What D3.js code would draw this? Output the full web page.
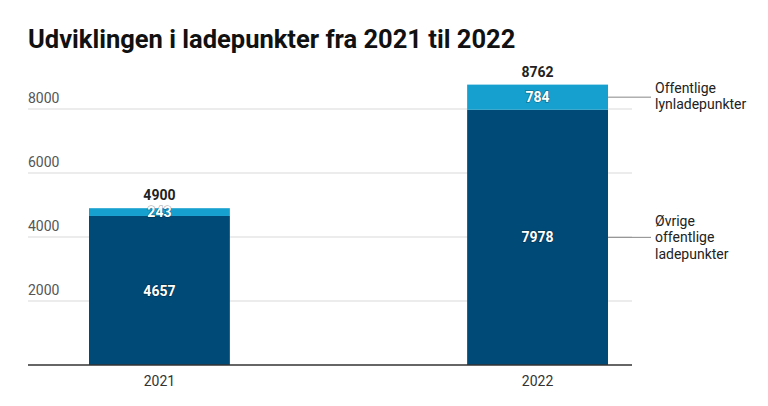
<!DOCTYPE html>
<html><head><meta charset="utf-8">
<script src="https://cdn.jsdelivr.net/npm/d3@7"></script>
<style>body{margin:0;background:#fff;font-family:Roboto,"Noto Sans",sans-serif;}</style>
</head><body>
<svg id="c" width="768" height="406"></svg>
<script>
const years = ["2021", "2022"];
const ovrige = [4657, 7978];
const lyn = [243, 784];
const totals = [4900, 8762];
const yTicks = [2000, 4000, 6000, 8000];
const seriesNames = [["Øvrige", "offentlige", "ladepunkter"], ["Offentlige", "lynladepunkter"]];
const colors = ["#004a77", "#16a0cf"];

const svg = d3.select("#c");
svg.append("text").attr("x", 28).attr("y", 48).attr("font-size", 25.5).attr("font-weight", 700)
  .attr("fill", "#111").text("Udviklingen i ladepunkter fra 2021 til 2022");

const x = d3.scaleBand().domain(years).range([89, 608]).paddingInner(0.6275).paddingOuter(0);
const y = d3.scaleLinear().domain([0, 8000]).range([365, 109]);

const g = svg.append("g");
yTicks.forEach(t => {
  g.append("line").attr("x1", 28).attr("x2", 632).attr("y1", y(t)).attr("y2", y(t))
    .attr("stroke", "#d9d9d9").attr("stroke-width", 1);
  g.append("text").attr("x", 28).attr("y", y(t) - 6).attr("font-size", 14).attr("fill", "#555").text(t);
});

const stackData = years.map((yr, i) => ({year: yr, ovrige: ovrige[i], lyn: lyn[i]}));
const stack = d3.stack().keys(["ovrige", "lyn"])(stackData);
stack.forEach((s, si) => {
  s.forEach((d, i) => {
    svg.append("rect").attr("x", x(years[i])).attr("width", x.bandwidth())
      .attr("y", y(d[1])).attr("height", y(d[0]) - y(d[1])).attr("fill", colors[si]);
  });
});
stack.forEach((s, si) => {
  s.forEach((d, i) => {
    const v = d[1] - d[0];
    svg.append("text").attr("x", x(years[i]) + x.bandwidth() / 2).attr("y", (y(d[0]) + y(d[1])) / 2)
      .attr("dy", "0.36em").attr("text-anchor", "middle").attr("font-size", 14).attr("font-weight", 700)
      .attr("fill", "#fff").style("paint-order", "stroke").attr("stroke", "rgba(0,0,0,0.3)").attr("stroke-width", 1.5)
      .text(v);
  });
});
totals.forEach((t, i) => {
  svg.append("text").attr("x", x(years[i]) + x.bandwidth() / 2).attr("y", y(t) - 8)
    .attr("text-anchor", "middle").attr("font-size", 14).attr("font-weight", 700).attr("fill", "#222").text(t);
});

svg.append("line").attr("x1", 28).attr("x2", 632).attr("y1", y(0)).attr("y2", y(0)).attr("stroke", "#333").attr("stroke-width", 1.5);
years.forEach(yr => {
  svg.append("text").attr("x", x(yr) + x.bandwidth() / 2).attr("y", 386).attr("text-anchor", "middle")
    .attr("font-size", 14).attr("fill", "#333").text(yr);
});

// legend annotations at last bar
const last = stack.map(s => s[s.length - 1]);
const bx = x(years[years.length - 1]) + x.bandwidth();
last.forEach((d, si) => {
  const cy = (y(d[0]) + y(d[1])) / 2;
  svg.append("line").attr("x1", bx).attr("x2", 651).attr("y1", cy).attr("y2", cy).attr("stroke", "#888").attr("stroke-width", 1);
  const lines = seriesNames[si];
  const lh = 16.3;
  const startY = si === 1 ? cy - 4 : cy + 5 - lh;
  lines.forEach((l, k) => {
    svg.append("text").attr("x", 655).attr("y", startY + k * lh).attr("font-size", 14).attr("fill", "#222").text(l);
  });
});
</script>
</body></html>
